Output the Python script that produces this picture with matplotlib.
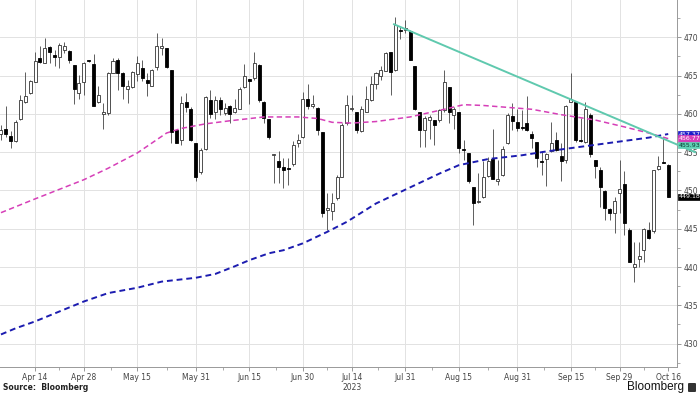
import numpy as np
import matplotlib
matplotlib.use("Agg")
import matplotlib.pyplot as plt
from matplotlib.patches import FancyBboxPatch

# daily candles, trading-day order (first one is partly cut off on the left)
opens = [457.4, 458.0, 457.1, 456.4, 459.3, 461.5, 462.7,
         464.2, 467.3, 466.7, 468.7, 467.7, 467.4, 468.3, 468.2, 466.4, 462.7,
         464.1, 467.0, 466.5, 461.6, 460.0, 460.1, 465.4, 467.0, 465.4, 463.2,
         463.5, 465.2, 466.0, 464.4, 463.7, 466.1, 468.6, 468.6, 465.7, 457.9,
         456.6, 461.6, 460.7, 456.2, 452.4, 455.4, 461.8, 460.3, 461.8, 460.1,
         461.0, 460.3, 460.7, 463.5, 464.5, 464.7, 466.4, 461.6, 459.3, 454.6,
         453.8, 453.1, 452.95, 453.4, 456.2, 457.0, 461.9, 461.0, 460.8, 457.6,
         447.5, 447.3, 449.0, 451.8, 458.8, 460.6, 460.2, 457.7, 460.3, 461.8,
         463.9, 464.9, 465.6, 468.1, 465.7, 471.0, 470.9, 470.8, 466.2, 460.3,
         457.9, 459.2, 459.2, 459.2, 460.5, 463.5, 459.9, 460.2, 455.35, 454.9,
         450.5, 448.45, 449.1, 451.9, 454.1, 451.3, 452.0, 456.2, 459.7, 459.0,
         458.3, 458.8, 457.4, 456.3, 453.9, 454.1, 455.1, 456.6, 454.5, 454.0,
         461.6, 461.5, 456.6, 456.3, 459.9, 454.0, 452.7, 449.9, 447.6, 447.0,
         449.7, 450.9, 444.9, 440.0, 441.1, 442.2, 444.8, 444.7, 452.8, 453.75,
         453.3]
highs = [458.5, 461.0, 457.7, 459.2, 462.5, 465.5, 464.4,
         468.1, 468.8, 469.9, 468.8, 468.3, 469.2, 469.4, 468.3, 466.4, 465.1,
         466.8, 467.0, 467.8, 463.6, 461.4, 465.5, 467.3, 467.3, 465.5, 464.4,
         465.6, 467.5, 467.0, 465.3, 465.9, 470.5, 469.9, 468.6, 465.7, 457.9,
         462.3, 462.7, 460.9, 456.2, 455.5, 462.3, 463.1, 462.4, 462.2, 461.4,
         461.1, 462.0, 463.5, 466.5, 464.6, 468.1, 466.5, 461.7, 459.3, 454.8,
         455.1, 454.3, 454.2, 456.4, 457.4, 462.8, 463.9, 462.5, 460.9, 457.6,
         449.7, 449.7, 452.0, 458.8, 462.5, 462.5, 460.3, 461.0, 463.6, 464.9,
         465.5, 466.2, 468.1, 468.1, 472.7, 471.3, 472.2, 470.9, 466.2, 460.3,
         459.7, 459.9, 459.2, 460.7, 465.7, 463.5, 460.9, 460.2, 456.6, 454.9,
         450.5, 452.3, 453.8, 454.4, 458.0, 454.0, 455.8, 460.1, 461.4, 460.7,
         460.5, 462.3, 457.7, 456.3, 455.1, 454.9, 458.9, 457.6, 456.2, 461.2,
         465.3, 461.6, 459.5, 461.6, 460.1, 454.0, 453.1, 450.1, 447.7, 449.2,
         454.0, 452.5, 445.1, 443.3, 443.3, 445.1, 445.9, 452.7, 454.5, 456.8,
         453.4]
lows = [456.6, 457.0, 455.5, 456.3, 459.2, 461.4, 462.6,
        464.2, 466.6, 466.6, 466.6, 466.2, 466.0, 467.9, 466.6, 461.3, 462.0,
        462.5, 466.8, 461.0, 461.4, 458.0, 459.9, 465.3, 463.1, 462.0, 461.4,
        463.4, 464.3, 464.3, 462.3, 463.6, 465.7, 467.7, 466.0, 456.2, 456.2,
        455.9, 460.2, 456.5, 451.3, 452.2, 455.3, 459.5, 459.3, 459.8, 459.8,
        458.8, 460.1, 460.6, 463.4, 461.3, 464.4, 461.6, 458.8, 456.7, 451.0,
        451.0, 450.3, 450.7, 453.2, 455.7, 456.9, 460.6, 460.8, 457.2, 446.6,
        444.8, 446.1, 448.8, 451.7, 458.6, 460.4, 457.5, 457.6, 460.2, 461.7,
        463.3, 464.4, 465.6, 462.5, 465.6, 469.8, 470.6, 467.0, 460.5, 455.7,
        455.7, 456.7, 455.9, 459.0, 460.3, 458.8, 458.0, 454.9, 454.0, 451.0,
        445.5, 448.4, 449.0, 451.8, 451.5, 450.7, 451.9, 456.1, 457.9, 457.7,
        457.9, 457.8, 455.5, 453.1, 452.0, 450.6, 455.0, 455.2, 451.2, 453.6,
        461.5, 456.3, 456.3, 456.2, 454.4, 451.6, 447.9, 446.2, 446.2, 444.4,
        447.0, 444.2, 440.7, 438.1, 440.0, 440.6, 443.6, 444.5, 452.7, 453.6,
        449.1]
closes = [457.9, 457.4, 456.5, 459.0, 461.8, 462.3, 464.3,
          466.9, 466.8, 468.6, 468.1, 467.4, 469.0, 468.9, 467.0, 463.2, 464.0,
          466.6, 466.9, 461.0, 462.5, 460.3, 465.3, 466.9, 465.4, 463.7, 463.6,
          465.5, 466.7, 464.7, 464.0, 465.7, 468.8, 468.9, 466.1, 457.6, 456.2,
          461.4, 460.9, 456.6, 451.8, 455.3, 462.2, 460.0, 461.8, 460.7, 460.8,
          460.0, 460.8, 463.3, 465.0, 464.3, 466.7, 461.8, 459.5, 457.0, 454.7,
          453.1, 452.7, 452.85, 456.0, 456.6, 461.9, 461.0, 461.3, 457.9, 447.1,
          447.7, 448.4, 451.8, 458.6, 461.2, 460.8, 457.9, 460.7, 461.9, 463.9,
          465.4, 465.7, 467.9, 465.5, 471.6, 470.8, 471.2, 467.1, 460.7, 457.9,
          459.4, 459.6, 458.6, 460.5, 464.2, 460.3, 460.7, 455.5, 455.25, 451.2,
          448.4, 448.55, 451.7, 453.8, 451.5, 451.5, 455.4, 459.9, 459.1, 458.2,
          458.2, 457.9, 456.8, 454.2, 453.7, 454.7, 456.2, 455.3, 453.9, 461.0,
          461.9, 456.6, 456.5, 460.6, 454.7, 453.2, 450.4, 447.7, 447.0, 448.6,
          450.2, 445.7, 440.7, 440.4, 441.5, 445.0, 443.8, 452.7, 453.2, 453.65,
          449.18]

date_labels = ["Apr 14", "Apr 28", "May 15", "May 31", "Jun 15", "Jun 30", "Jul 14",
               "Jul 31", "Aug 15", "Aug 31", "Sep 15", "Sep 29", "Oct 16"]
date_pos = [7, 17, 28, 40, 51, 62, 72, 83, 94, 106, 117, 127, 137]

# moving averages at a handful of days
ma_pink_x = [0, 7, 17, 22, 28, 34, 37, 42, 47, 54, 61, 65, 68, 72, 77, 84, 91, 95,
             99, 103, 109, 115, 119, 122, 128, 133, 137]
ma_pink_y = [447.1, 448.9, 451.4, 452.9, 454.9, 457.5, 458.1, 458.7, 459.1, 459.6,
             459.6, 459.4, 458.9, 458.8, 459.0, 459.6, 460.6, 461.2, 461.1, 460.9,
             460.6, 459.9, 459.5, 459.2, 458.3, 457.5, 456.77]
ma_blue_x = [0, 3, 7, 12, 17, 22, 28, 33, 40, 44, 48, 51, 55, 58, 62, 67, 71, 77,
             83, 90, 94, 100, 107, 112, 119, 126, 133, 137]
ma_blue_y = [431.2, 432.0, 432.9, 434.2, 435.5, 436.6, 437.3, 438.1, 438.6, 439.1,
             440.1, 440.9, 441.8, 442.2, 443.1, 444.6, 445.9, 448.3, 450.1, 452.2,
             453.3, 454.1, 454.6, 455.1, 455.7, 456.3, 456.9, 457.37]
trend_x = [80.7, 142.5]
trend_y = [471.7, 455.0]

last_vals = [457.37, 456.77, 455.93, 449.18]
last_cols = ["#1c1cc8", "#d63fb8", "#5fd0b4", "#000000"]
last_txt = ["white", "white", "#0a3a30", "white"]

x = np.arange(len(closes))
o = np.array(opens)
c = np.array(closes)
h = np.array(highs)
l = np.array(lows)
up = c >= o

fig = plt.figure(figsize=(7, 3.94), dpi=100)
ax = fig.add_axes([0, 27 / 394, 677 / 700, 367 / 394])

ax.vlines(x, l, h, color="#444444", lw=0.6, zorder=2)
body_lo = np.minimum(o, c)
body_h = np.maximum(np.abs(c - o), 0.12)
ax.bar(x[up], body_h[up], bottom=body_lo[up], width=0.62, color="white",
       edgecolor="#333333", linewidth=0.6, zorder=3)
ax.bar(x[~up], body_h[~up], bottom=body_lo[~up], width=0.62, color="black",
       edgecolor="black", linewidth=0.6, zorder=3)

ax.plot(ma_pink_x, ma_pink_y, color="#d63fb8", lw=1.1, ls=(0, (3.5, 2.2)), zorder=4)
ax.plot(ma_blue_x, ma_blue_y, color="#1c1cb0", lw=1.4, ls=(0, (3, 2)), zorder=4)
ax.plot(trend_x, trend_y, color="#5fc9ae", lw=1.4, zorder=5, clip_on=False)

ax.set_xlim(-0.2, 138.8)
ax.set_ylim(426.95, 474.87)

ax.yaxis.tick_right()
ax.set_yticks(np.arange(430, 471, 5))
ax.set_yticks(np.arange(427.5, 474, 2.5), minor=True)
ax.set_xticks(date_pos)
ax.set_xticklabels(date_labels)
minor_x = [(a + b) / 2 for a, b in zip(date_pos[:-1], date_pos[1:])]
ax.set_xticks(minor_x, minor=True)

ax.tick_params(axis="both", which="major", labelsize=5.5, labelcolor="#444444",
               color="#888888", length=3, width=0.6, pad=1.5)
ax.tick_params(axis="both", which="minor", color="#888888", length=2, width=0.5)

ax.grid(True, which="major", color="#e2e2e2", lw=0.7, zorder=0)
ax.get_xgridlines()[-1].set_visible(False)
ax.set_axisbelow(True)

for s in ["left", "top"]:
    ax.spines[s].set_visible(False)
for s in ["right", "bottom"]:
    ax.spines[s].set_color("#999999")
    ax.spines[s].set_linewidth(0.7)

ax.text(72, -0.043, "2023", transform=ax.get_xaxis_transform(), ha="center",
        va="top", fontsize=5.5, color="#444444")

# last-value tags on the right edge
for val, col, tc in zip(last_vals, last_cols, last_txt):
    ax.annotate(f"{val:.2f}", xy=(1.0, val), xycoords=("axes fraction", "data"),
                xytext=(1.2, 0), textcoords="offset points", ha="left", va="center",
                fontsize=4.5, color=tc, zorder=10, annotation_clip=False,
                bbox=dict(boxstyle="square,pad=0.1", fc=col, ec=col, lw=0.5))

fig.text(3 / 700, 1 - 388 / 394, "Source:  Bloomberg", fontsize=5.5,
         fontweight="bold", color="#222222", va="center", ha="left")
fig.text(684 / 700, 1 - 387 / 394, "Bloomberg", fontsize=8.5,
         family="Liberation Sans", color="#111111", va="center", ha="right")
fig.patches.append(FancyBboxPatch((688 / 700, 1 - 392 / 394), 8 / 700, 9 / 394,
                                  boxstyle="round,pad=0,rounding_size=0.002",
                                  transform=fig.transFigure, fc="#333333",
                                  ec="none"))

fig.savefig("out.png", dpi=100)
